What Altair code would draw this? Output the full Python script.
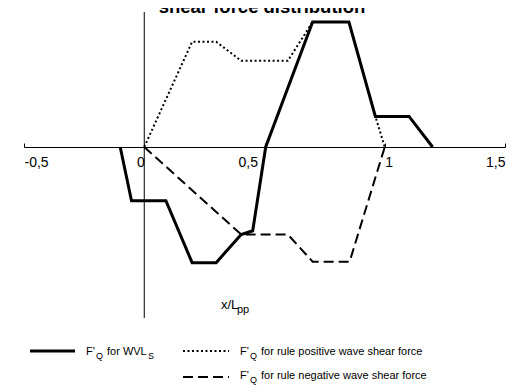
import altair as alt
import pandas as pd

# ---- data ----
x_wvl = [-0.10, -0.053, 0.09, 0.199, 0.299, 0.403, 0.451, 0.505, 0.70, 0.851, 0.961, 1.101, 1.199]
y_wvl = [0.0, -0.43, -0.43, -0.925, -0.925, -0.70, -0.67, 0.0, 1.0, 1.0, 0.245, 0.245, 0.0]

x_pos = [0.0, 0.199, 0.299, 0.403, 0.597, 0.70, 0.851, 0.961, 1.0]
y_pos = [0.0, 0.842, 0.842, 0.69, 0.69, 1.0, 1.0, 0.245, 0.0]

x_neg = [0.0, 0.403, 0.597, 0.70, 0.854, 1.0]
y_neg = [0.0, -0.70, -0.70, -0.917, -0.917, 0.0]

tick_values = [-0.5, 0, 0.5, 1, 1.5]
tick_labels = ["-0,5", "0", "0,5", "1", "1,5"]

title_text = "shear force distribution"

FONT = "Liberation Sans"
W, H = 481, 306
XDOM = [-0.5, 1.5]
YDOM = [-1.368, 1.08]

label_expr = " : ".join(
    f"datum.value == {v} ? '{l}'" for v, l in zip(tick_values, tick_labels)
) + " : ''"

xscale = alt.Scale(domain=XDOM, nice=False, zero=False)
yscale = alt.Scale(domain=YDOM, nice=False, zero=False)

xaxis = alt.Axis(
    orient="top", offset=-135, values=tick_values, labelExpr=label_expr,
    title=None, grid=False, domainColor="#000", domainWidth=1,
    tickColor="#000", tickSize=4, tickWidth=1,
    labelFont=FONT, labelFontSize=14, labelColor="#000",
    labelBaseline="alphabetic", labelPadding=-23, labelFlush=False,
    labelAlign=alt.condition("datum.value == 0 || datum.value == 0.5 || datum.value == 1.5",
                             alt.value("right"), alt.value("left")),
    labelOffset=alt.condition("datum.value == 0.5", alt.value(-7),
                              alt.value(0)),
)


def series_df(xs, ys):
    return pd.DataFrame({"x": xs, "y": ys, "i": list(range(len(xs)))})


def line_layer(xs, ys, width, dash=None):
    kw = dict(color="#000", strokeWidth=width, strokeJoin="miter", strokeCap="butt")
    if dash:
        kw["strokeDash"] = dash
    return alt.Chart(series_df(xs, ys)).mark_line(**kw).encode(
        x=alt.X("x:Q", scale=xscale, axis=xaxis),
        y=alt.Y("y:Q", scale=yscale, axis=None),
        order="i:Q",
    )


vline = alt.Chart(pd.DataFrame({"x": [0]})).mark_rule(color="#000", strokeWidth=1).encode(
    x=alt.X("x:Q", scale=xscale, axis=xaxis)
)

pos_line = line_layer(x_pos, y_pos, 2, [2, 2.5])
neg_line = line_layer(x_neg, y_neg, 2, [10, 5])
wvl_line = line_layer(x_wvl, y_wvl, 3)


def txt(s, x, y, size=11, bold=False, align="left"):
    return alt.Chart(pd.DataFrame({"t": [s]})).mark_text(
        font=FONT, fontSize=size, fontWeight="bold" if bold else "normal",
        color="#000", align=align, baseline="alphabetic",
    ).encode(text="t:N", x=alt.value(x), y=alt.value(y))


def sample(x1, x2, y, width, dash=None):
    kw = dict(color="#000", strokeWidth=width, strokeCap="butt")
    if dash:
        kw["strokeDash"] = dash
    return alt.Chart(pd.DataFrame({"a": [0]})).mark_rule(**kw).encode(
        x=alt.value(x1), x2=alt.value(x2), y=alt.value(y)
    )


annot = [
    txt(title_text, 238, 1, size=18.5, bold=True, align="center"),
    txt("x/L", 197, 297, size=13),
    txt("pp", 213, 301, size=11),
    sample(6, 51, 339, 3),
    sample(159, 205, 339, 2, [2, 2.5]),
    sample(159, 205, 365, 2, [10, 5]),
    txt("F'", 62, 343), txt("Q", 72, 347, size=9), txt("for WVL", 83, 343), txt("S", 124, 347, size=9),
    txt("F'", 216, 343), txt("Q", 226, 347, size=9), txt("for rule positive wave shear force", 237, 343),
    txt("F'", 216, 367), txt("Q", 226, 371, size=9), txt("for rule negative wave shear force", 237, 367),
]

chart = alt.layer(vline, pos_line, neg_line, wvl_line, *annot).properties(
    width=W, height=H,
    autosize=alt.AutoSizeParams(type="none"),
    padding={"left": 16, "top": 4, "right": 1, "bottom": 68},
    background="white",
).configure_view(stroke=None)

chart.save("out.html", embed_options={"renderer": "svg", "actions": False})
